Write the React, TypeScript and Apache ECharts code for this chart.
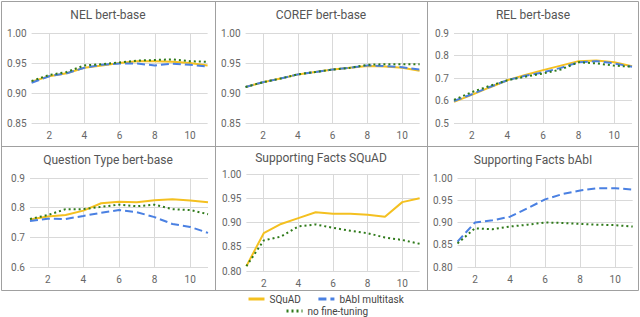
import React, { useEffect, useRef } from 'react';
import * as echarts from 'echarts';

const steps = ['1', '2', '3', '4', '5', '6', '7', '8', '9', '10', '11'];

const panelTitles = [
  'NEL bert-base',
  'COREF bert-base',
  'REL bert-base',
  'Question Type bert-base',
  'Supporting Facts SQuAD',
  'Supporting Facts bAbI',
];

// NEL
const nelSquad = [0.919, 0.928, 0.933, 0.942, 0.946, 0.95, 0.953, 0.953, 0.952, 0.95, 0.946];
const nelBabi = [0.917, 0.928, 0.933, 0.942, 0.947, 0.949, 0.949, 0.946, 0.949, 0.947, 0.944];
const nelNone = [0.92, 0.93, 0.935, 0.946, 0.948, 0.951, 0.954, 0.955, 0.956, 0.953, 0.952];
// COREF
const corefSquad = [0.91, 0.918, 0.924, 0.931, 0.935, 0.939, 0.942, 0.945, 0.944, 0.942, 0.937];
const corefBabi = [0.91, 0.918, 0.924, 0.931, 0.935, 0.939, 0.942, 0.946, 0.945, 0.943, 0.939];
const corefNone = [0.91, 0.918, 0.924, 0.931, 0.935, 0.939, 0.942, 0.947, 0.948, 0.948, 0.948];
// REL
const relSquad = [0.594, 0.625, 0.658, 0.69, 0.713, 0.735, 0.755, 0.775, 0.778, 0.77, 0.752];
const relBabi = [0.598, 0.628, 0.66, 0.69, 0.71, 0.725, 0.745, 0.77, 0.775, 0.765, 0.75];
const relNone = [0.603, 0.637, 0.665, 0.69, 0.706, 0.72, 0.738, 0.77, 0.765, 0.755, 0.75];
// Question Type
const qtSquad = [0.76, 0.77, 0.775, 0.79, 0.815, 0.82, 0.818, 0.825, 0.828, 0.824, 0.818];
const qtBabi = [0.755, 0.763, 0.762, 0.772, 0.783, 0.792, 0.785, 0.768, 0.745, 0.735, 0.715];
const qtNone = [0.762, 0.775, 0.795, 0.795, 0.803, 0.81, 0.805, 0.81, 0.795, 0.792, 0.778];
// Supporting Facts SQuAD
const sfsSquad = [0.81, 0.878, 0.897, 0.909, 0.921, 0.918, 0.918, 0.916, 0.912, 0.942, 0.95];
const sfsNone = [0.81, 0.863, 0.871, 0.892, 0.896, 0.889, 0.883, 0.878, 0.869, 0.864, 0.856];
// Supporting Facts bAbI
const sfbBabi = [0.857, 0.9, 0.905, 0.913, 0.932, 0.952, 0.964, 0.972, 0.977, 0.977, 0.974];
const sfbNone = [0.853, 0.887, 0.885, 0.891, 0.895, 0.9, 0.899, 0.897, 0.895, 0.894, 0.891];

const yMins = [0.85, 0.85, 0.5, 0.6, 0.8, 0.8];
const yMaxs = [1.0, 1.0, 0.9, 0.9, 1.0, 1.0];
const yIntervals = [0.05, 0.05, 0.1, 0.1, 0.05, 0.05];
const yDecimals = [2, 2, 1, 1, 2, 2];

const squadData = [nelSquad, corefSquad, relSquad, qtSquad, sfsSquad, null];
const babiData = [nelBabi, corefBabi, relBabi, qtBabi, null, sfbBabi];
const noneData = [nelNone, corefNone, relNone, qtNone, sfsNone, sfbNone];

const SQUAD = 'SQuAD';
const BABI = 'bAbI multitask';
const NONE = 'no fine-tuning';

const YELLOW = '#f4c020';
const BLUE = '#4a80e2';
const GREEN = '#2f7a1a';

export default function App() {
  const ref = useRef<HTMLDivElement>(null);

  useEffect(() => {
    if (!ref.current) return;
    const chart = echarts.init(ref.current, undefined, { renderer: 'svg' });

    const grids = [
      { left: 31.6, top: 33, width: 176, height: 90 },
      { left: 245.6, top: 33, width: 174, height: 90 },
      { left: 454, top: 33, width: 178, height: 90 },
      { left: 30, top: 178, width: 178, height: 89 },
      { left: 246.4, top: 174, width: 173.2, height: 97 },
      { left: 457.5, top: 178, width: 175.2, height: 89 },
    ];
    const titleCenters = [
      [108, 16],
      [321, 16],
      [533, 16],
      [108, 161],
      [321, 159],
      [533, 161],
    ];

    const font = 'Roboto, "Noto Sans", sans-serif';

    const xAxes = grids.map((_, i) => ({
      type: 'category',
      gridIndex: i,
      data: steps,
      boundaryGap: false,
      axisLine: { show: false },
      axisTick: { show: false },
      axisLabel: {
        interval: (idx: number) => idx % 2 === 1,
        color: '#666',
        fontSize: 10,
        fontFamily: font,
        margin: 7,
      },
      splitLine: {
        show: true,
        interval: (idx: number) => idx % 2 === 1,
        lineStyle: { color: '#d9d9d9', width: 1 },
      },
    }));

    const yAxes = grids.map((_, i) => ({
      type: 'value',
      gridIndex: i,
      min: yMins[i],
      max: yMaxs[i],
      interval: yIntervals[i],
      axisLine: { show: false },
      axisTick: { show: false },
      axisLabel: {
        color: '#666',
        fontSize: 10,
        fontFamily: font,
        margin: 5,
        formatter: (v: number) => v.toFixed(yDecimals[i]),
      },
      splitLine: { show: true, lineStyle: { color: '#d9d9d9', width: 1 } },
    }));

    const series: any[] = [];
    for (let i = 0; i < 6; i++) {
      const s = squadData[i];
      const b = babiData[i];
      const n = noneData[i];
      if (s)
        series.push({
          name: SQUAD,
          type: 'line',
          xAxisIndex: i,
          yAxisIndex: i,
          data: s,
          symbol: 'none',
          itemStyle: { color: YELLOW },
          lineStyle: { color: YELLOW, width: 2 },
        });
      if (b)
        series.push({
          name: BABI,
          type: 'line',
          xAxisIndex: i,
          yAxisIndex: i,
          data: b,
          symbol: 'none',
          itemStyle: { color: BLUE },
          lineStyle: { color: BLUE, width: 2, type: [8, 4] },
        });
      if (n)
        series.push({
          name: NONE,
          type: 'line',
          xAxisIndex: i,
          yAxisIndex: i,
          data: n,
          symbol: 'none',
          itemStyle: { color: GREEN },
          lineStyle: { color: GREEN, width: 2, type: [2, 3] },
        });
    }

    const border = '#a0a0a0';
    const graphicLines = [
      [1.5, 1.5, 638.5, 1.5],
      [1.5, 290.5, 638.5, 290.5],
      [1.5, 1.5, 1.5, 290.5],
      [638.5, 1.5, 638.5, 290.5],
      [215.5, 1.5, 215.5, 290.5],
      [427.5, 1.5, 427.5, 290.5],
      [1.5, 146.5, 638.5, 146.5],
    ].map(([x1, y1, x2, y2]) => ({
      type: 'line',
      silent: true,
      shape: { x1, y1, x2, y2 },
      style: { stroke: border, lineWidth: 1 },
    }));

    const legendCommon = {
      padding: 0,
      itemWidth: 16,
      itemHeight: 8,
      itemStyle: { opacity: 0, borderWidth: 0 },
      lineStyle: { width: 3 },
      selectedMode: false,
      textStyle: { fontSize: 10, color: '#444', fontFamily: font },
    };

    chart.setOption({
      animation: false,
      backgroundColor: '#ffffff',
      title: panelTitles.map((t, i) => ({
        text: t,
        left: titleCenters[i][0],
        top: titleCenters[i][1] - 7,
        textAlign: 'center',
        padding: 0,
        textStyle: { fontSize: 12, fontWeight: 'normal', color: '#555', fontFamily: font },
      })),
      grid: grids,
      xAxis: xAxes,
      yAxis: yAxes,
      legend: [
        {
          ...legendCommon,
          data: [SQUAD, BABI],
          left: 247,
          top: 294,
          itemGap: 16,
        },
        {
          ...legendCommon,
          data: [NONE],
          left: 285,
          top: 306,
        },
      ],
      graphic: graphicLines,
      series,
    });

    return () => chart.dispose();
  }, []);

  return (
    <div
      ref={ref}
      style={{ position: 'absolute', left: 0, top: 0, width: 640, height: 317 }}
    />
  );
}
